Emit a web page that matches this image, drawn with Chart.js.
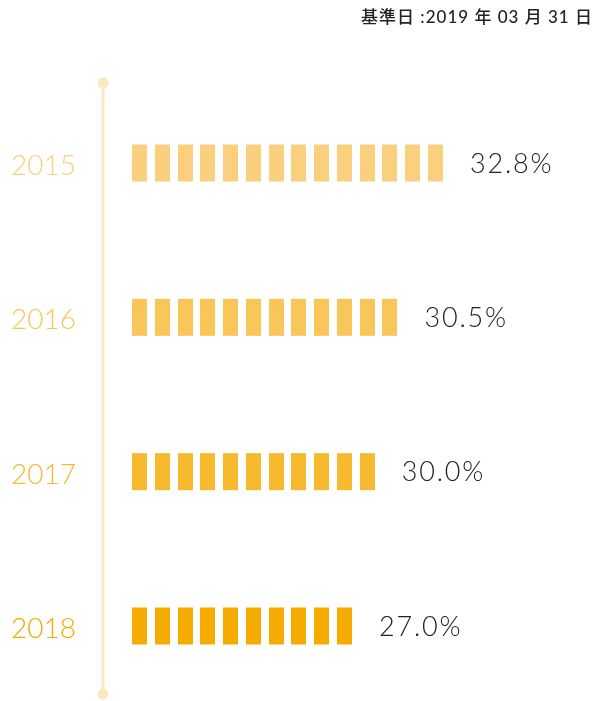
<!DOCTYPE html>
<html>
<head>
<meta charset="utf-8">
<script src="https://cdn.jsdelivr.net/npm/chart.js@4"></script>
<style>
  html, body { margin: 0; padding: 0; background: #fff; }
  #wrap { width: 597px; height: 701px; }
</style>
</head>
<body>
<div id="wrap"><canvas id="rateChart"></canvas></div>
<script>
// data
const years = ['2015', '2016', '2017', '2018'];
const rateLabels = ['32.8%', '30.5%', '30.0%', '27.0%'];
const blocks = [14, 12, 11, 10];          // number of blocks per row
const barColors = ['#fad07e', '#f9c65a', '#f7b92e', '#f5ab00'];
const yearColors = ['#fad07e', '#f9c65a', '#f7b92e', '#f5ab00'];
const titleText = '基準日 :2019 年 03 月 31 日';

const lineColor = '#fde8c2';
const fontStack = "Lato, 'Noto Sans CJK JP', sans-serif";

// timeline on the left
const timeline = {
    id: 'timeline',
    beforeDatasetsDraw(chart) {
        const ctx = chart.ctx;
        const area = chart.chartArea;
        const x = area.left - 29;
        const top = area.top - 80;
        const bottom = area.bottom + 68;
        ctx.save();
        ctx.strokeStyle = lineColor;
        ctx.fillStyle = lineColor;
        ctx.lineWidth = 3;
        ctx.beginPath();
        ctx.moveTo(x, top);
        ctx.lineTo(x, bottom);
        ctx.stroke();
        [top, bottom].forEach(function (y) {
            ctx.beginPath();
            ctx.arc(x, y, 5.5, 0, Math.PI * 2);
            ctx.fill();
        });
        ctx.restore();
    }
};

// split each bar into blocks and write the rate after it, plus the date note
const blockBars = {
    id: 'blockBars',
    afterDatasetsDraw(chart) {
        const ctx = chart.ctx;
        const meta = chart.getDatasetMeta(0);
        ctx.save();
        meta.data.forEach(function (bar, i) {
            const n = blocks[i];
            const pitch = (bar.x - bar.base) / n;
            const w = pitch * 0.66;
            const h = bar.height;
            ctx.fillStyle = barColors[i];
            for (let k = 0; k < n; k++) {
                ctx.fillRect(Math.round(bar.base + k * pitch), bar.y - h / 2, Math.round(w), h);
            }
            const end = bar.base + (n - 1) * pitch + w;
            ctx.fillStyle = '#222';
            ctx.font = '300 27px ' + fontStack;
            ctx.letterSpacing = '1.8px';
            ctx.textAlign = 'left';
            ctx.textBaseline = 'middle';
            ctx.fillText(rateLabels[i], end + 27, bar.y + 1);
        });

        ctx.fillStyle = '#222';
        ctx.font = '500 17px ' + fontStack;
        ctx.letterSpacing = '1px';
        ctx.textAlign = 'right';
        ctx.textBaseline = 'middle';
        ctx.fillText(titleText, chart.width - 4, 18);
        ctx.restore();
    }
};

new Chart(document.getElementById('rateChart'), {
    type: 'bar',
    data: {
        labels: years,
        datasets: [{
            data: blocks,
            backgroundColor: 'rgba(0,0,0,0)',
            barThickness: 37,
            clip: false
        }]
    },
    options: {
        indexAxis: 'y',
        responsive: true,
        maintainAspectRatio: false,
        animation: false,
        layout: { padding: { top: 163, right: 5, bottom: 75, left: 0 } },
        scales: {
            x: { display: false, min: 0, max: 20.2 },
            y: {
                offset: false,
                grid: { display: false, drawTicks: false },
                border: { display: false },
                ticks: {
                    padding: 56,
                    labelOffset: 3,
                    color: yearColors,
                    font: { family: fontStack, size: 28, weight: '300' }
                },
                afterFit(scale) { scale.width = 132; }
            }
        },
        plugins: {
            legend: { display: false },
            tooltip: { enabled: false },
            title: { display: false }
        }
    },
    plugins: [timeline, blockBars]
});
</script>
</body>
</html>
